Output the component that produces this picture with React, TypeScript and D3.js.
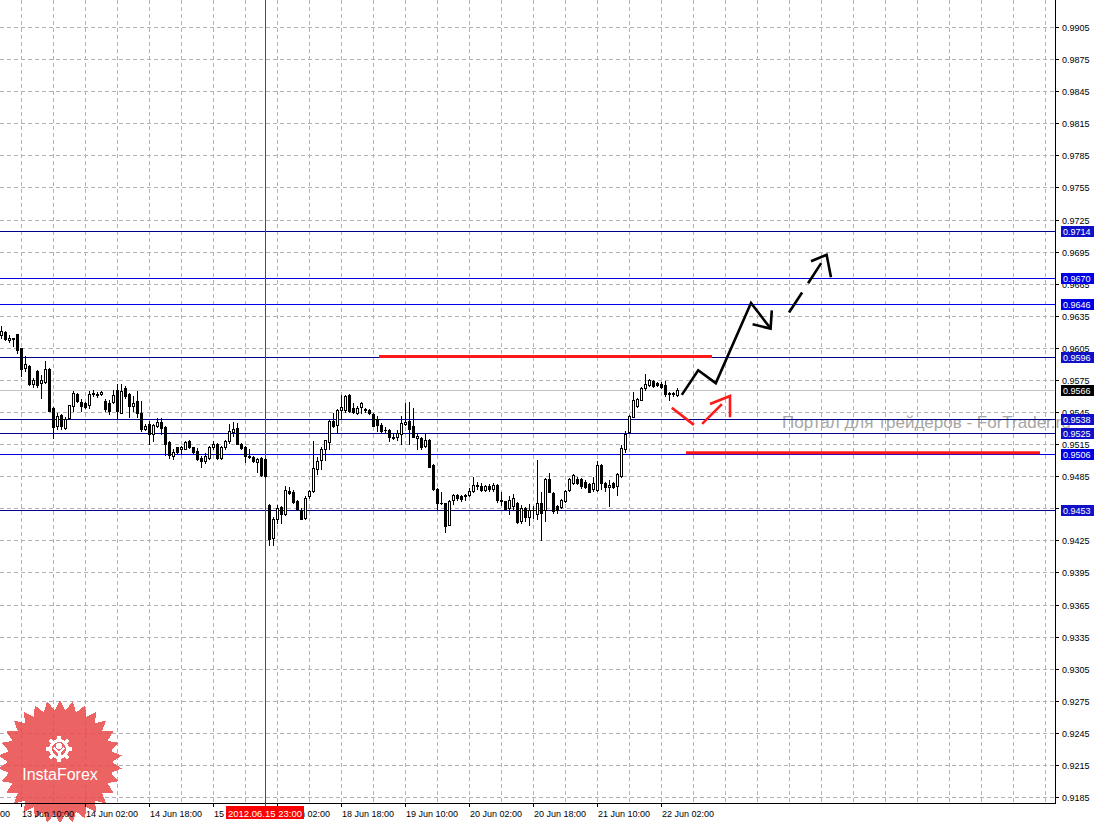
import React from "react";
import * as d3 from "d3";

// ---------- DATA ----------
const firstBar = -5; // bar index of first candle; bar 0 = 13 Jun 10:00 (H1)
const opens = [
  0.9617, 0.9620, 0.9612, 0.9614, 0.9618,
  0.9605, 0.9586, 0.9588, 0.9571, 0.9583, 0.9572, 0.9573, 0.9585, 0.9549, 0.9532,
  0.9542, 0.9530, 0.9539, 0.9551, 0.9562, 0.9554, 0.9553, 0.9552, 0.9562, 0.9562,
  0.9562, 0.9555, 0.9553, 0.9554, 0.9566, 0.9544, 0.9567, 0.9562, 0.9551, 0.9555,
  0.9544, 0.9529, 0.9534, 0.9524, 0.9532, 0.9536, 0.9531, 0.9517, 0.9504, 0.9512,
  0.9510, 0.9510, 0.9518, 0.9512, 0.9509, 0.9502, 0.9499, 0.9502, 0.9512, 0.9515,
  0.9502, 0.9512, 0.9518, 0.9526, 0.9530, 0.9515, 0.9512, 0.9504, 0.9503, 0.9498,
  0.9502, 0.9501, 0.9458, 0.9427, 0.9445, 0.9456, 0.9450, 0.9471, 0.9470, 0.9462,
  0.9453, 0.9446, 0.9466, 0.9471, 0.9492, 0.9500, 0.9510, 0.9517, 0.9537, 0.9533,
  0.9547, 0.9547, 0.9561, 0.9549, 0.9544, 0.9550, 0.9548, 0.9547, 0.9543, 0.9538,
  0.9533, 0.9528, 0.9528, 0.9522, 0.9522, 0.9524, 0.9534, 0.9537, 0.9532, 0.9521,
  0.9521, 0.9513, 0.9519, 0.9495, 0.9473, 0.9460, 0.9460, 0.9439, 0.9463, 0.9467,
  0.9466, 0.9467, 0.9467, 0.9471, 0.9477, 0.9476, 0.9472, 0.9476, 0.9473, 0.9477,
  0.9463, 0.9462, 0.9455, 0.9457, 0.9460, 0.9443, 0.9455, 0.9447, 0.9453, 0.9450,
  0.9460, 0.9453, 0.9482, 0.9469, 0.9457, 0.9456, 0.9462, 0.9472, 0.9479, 0.9482,
  0.9482, 0.9480, 0.9478, 0.9473, 0.9472, 0.9495, 0.9479, 0.9475, 0.9479, 0.9476,
  0.9485, 0.9510, 0.9526, 0.9540, 0.9551, 0.9556, 0.9567, 0.9570, 0.9574, 0.9572,
  0.9571, 0.9570, 0.9563, 0.9562, 0.9561,
];
const highs = [
  0.9625, 0.9621, 0.9617, 0.9614, 0.9618,
  0.9605, 0.9597, 0.9589, 0.9577, 0.9584, 0.9580, 0.9593, 0.9586, 0.9550, 0.9544,
  0.9543, 0.9540, 0.9552, 0.9565, 0.9563, 0.9557, 0.9554, 0.9565, 0.9566, 0.9564,
  0.9565, 0.9557, 0.9556, 0.9566, 0.9571, 0.9571, 0.9569, 0.9563, 0.9560, 0.9565,
  0.9555, 0.9534, 0.9537, 0.9534, 0.9539, 0.9539, 0.9532, 0.9518, 0.9510, 0.9512,
  0.9513, 0.9518, 0.9519, 0.9512, 0.9511, 0.9504, 0.9507, 0.9513, 0.9518, 0.9516,
  0.9513, 0.9519, 0.9534, 0.9536, 0.9535, 0.9516, 0.9513, 0.9510, 0.9504, 0.9502,
  0.9503, 0.9502, 0.9459, 0.9447, 0.9458, 0.9457, 0.9476, 0.9475, 0.9472, 0.9463,
  0.9455, 0.9466, 0.9472, 0.9518, 0.9503, 0.9512, 0.9519, 0.9538, 0.9544, 0.9548,
  0.9561, 0.9561, 0.9562, 0.9553, 0.9551, 0.9554, 0.9549, 0.9548, 0.9544, 0.9541,
  0.9535, 0.9531, 0.9529, 0.9525, 0.9528, 0.9541, 0.9553, 0.9554, 0.9549, 0.9525,
  0.9522, 0.9524, 0.9520, 0.9496, 0.9474, 0.9470, 0.9460, 0.9463, 0.9468, 0.9468,
  0.9467, 0.9468, 0.9474, 0.9484, 0.9480, 0.9479, 0.9477, 0.9478, 0.9479, 0.9478,
  0.9470, 0.9462, 0.9466, 0.9468, 0.9461, 0.9458, 0.9456, 0.9459, 0.9457, 0.9500,
  0.9470, 0.9483, 0.9488, 0.9470, 0.9458, 0.9464, 0.9472, 0.9483, 0.9487, 0.9484,
  0.9483, 0.9481, 0.9479, 0.9484, 0.9499, 0.9496, 0.9480, 0.9481, 0.9480, 0.9488,
  0.9514, 0.9527, 0.9542, 0.9564, 0.9558, 0.9568, 0.9581, 0.9576, 0.9575, 0.9573,
  0.9573, 0.9574, 0.9564, 0.9564, 0.9567,
];
const lows = [
  0.9614, 0.9612, 0.9610, 0.9607, 0.9600,
  0.9579, 0.9583, 0.9570, 0.9568, 0.9568, 0.9558, 0.9572, 0.9546, 0.9521, 0.9529,
  0.9529, 0.9529, 0.9538, 0.9546, 0.9554, 0.9546, 0.9549, 0.9549, 0.9560, 0.9559,
  0.9561, 0.9546, 0.9543, 0.9553, 0.9539, 0.9544, 0.9558, 0.9540, 0.9546, 0.9540,
  0.9527, 0.9528, 0.9515, 0.9518, 0.9531, 0.9524, 0.9505, 0.9502, 0.9501, 0.9507,
  0.9507, 0.9510, 0.9511, 0.9506, 0.9500, 0.9494, 0.9497, 0.9501, 0.9510, 0.9501,
  0.9501, 0.9510, 0.9516, 0.9523, 0.9515, 0.9510, 0.9498, 0.9502, 0.9498, 0.9489,
  0.9485, 0.9484, 0.9421, 0.9421, 0.9441, 0.9441, 0.9449, 0.9468, 0.9460, 0.9453,
  0.9445, 0.9445, 0.9465, 0.9470, 0.9487, 0.9492, 0.9500, 0.9510, 0.9531, 0.9525,
  0.9538, 0.9545, 0.9545, 0.9544, 0.9543, 0.9544, 0.9545, 0.9543, 0.9532, 0.9527,
  0.9526, 0.9526, 0.9518, 0.9520, 0.9519, 0.9515, 0.9533, 0.9515, 0.9522, 0.9510,
  0.9510, 0.9512, 0.9494, 0.9472, 0.9453, 0.9459, 0.9433, 0.9439, 0.9459, 0.9463,
  0.9462, 0.9463, 0.9466, 0.9470, 0.9473, 0.9471, 0.9471, 0.9471, 0.9471, 0.9461,
  0.9458, 0.9453, 0.9450, 0.9454, 0.9441, 0.9441, 0.9443, 0.9439, 0.9446, 0.9445,
  0.9425, 0.9443, 0.9470, 0.9451, 0.9451, 0.9455, 0.9461, 0.9471, 0.9478, 0.9478,
  0.9474, 0.9474, 0.9470, 0.9471, 0.9471, 0.9473, 0.9471, 0.9457, 0.9474, 0.9467,
  0.9484, 0.9508, 0.9525, 0.9540, 0.9550, 0.9556, 0.9566, 0.9569, 0.9568, 0.9569,
  0.9567, 0.9560, 0.9556, 0.9560, 0.9560,
];
const closes = [
  0.9621, 0.9613, 0.9614, 0.9613, 0.9603,
  0.9585, 0.9590, 0.9571, 0.9575, 0.9570, 0.9575, 0.9585, 0.9546, 0.9531, 0.9541,
  0.9532, 0.9538, 0.9552, 0.9563, 0.9555, 0.9551, 0.9550, 0.9562, 0.9563, 0.9561,
  0.9564, 0.9548, 0.9546, 0.9561, 0.9546, 0.9565, 0.9560, 0.9551, 0.9553, 0.9544,
  0.9529, 0.9532, 0.9524, 0.9533, 0.9536, 0.9530, 0.9515, 0.9505, 0.9508, 0.9508,
  0.9512, 0.9517, 0.9512, 0.9508, 0.9501, 0.9499, 0.9504, 0.9512, 0.9515, 0.9502,
  0.9512, 0.9518, 0.9527, 0.9529, 0.9515, 0.9511, 0.9504, 0.9503, 0.9499, 0.9501,
  0.9486, 0.9485, 0.9426, 0.9445, 0.9455, 0.9450, 0.9472, 0.9469, 0.9461, 0.9454,
  0.9445, 0.9465, 0.9471, 0.9493, 0.9499, 0.9510, 0.9519, 0.9537, 0.9532, 0.9547,
  0.9550, 0.9560, 0.9546, 0.9545, 0.9549, 0.9553, 0.9547, 0.9544, 0.9532, 0.9533,
  0.9527, 0.9528, 0.9522, 0.9521, 0.9525, 0.9535, 0.9536, 0.9529, 0.9522, 0.9523,
  0.9512, 0.9519, 0.9494, 0.9473, 0.9460, 0.9460, 0.9438, 0.9462, 0.9467, 0.9465,
  0.9464, 0.9466, 0.9471, 0.9477, 0.9476, 0.9472, 0.9476, 0.9473, 0.9477, 0.9463,
  0.9462, 0.9454, 0.9463, 0.9465, 0.9442, 0.9455, 0.9447, 0.9453, 0.9453, 0.9460,
  0.9451, 0.9482, 0.9470, 0.9452, 0.9453, 0.9463, 0.9471, 0.9482, 0.9486, 0.9479,
  0.9476, 0.9475, 0.9470, 0.9479, 0.9495, 0.9479, 0.9475, 0.9477, 0.9475, 0.9487,
  0.9511, 0.9524, 0.9541, 0.9556, 0.9557, 0.9567, 0.9571, 0.9575, 0.9569, 0.9570,
  0.9568, 0.9562, 0.9562, 0.9563, 0.9566,
];

const priceTicks = [
  0.9185, 0.9215, 0.9245, 0.9275, 0.9305, 0.9335, 0.9365, 0.9395, 0.9425,
  0.9455, 0.9485, 0.9515, 0.9545, 0.9575, 0.9605, 0.9635, 0.9665, 0.9695,
  0.9725, 0.9755, 0.9785, 0.9815, 0.9845, 0.9875, 0.9905,
];
const timeTickBars = [-16, 0, 16, 32, 48, 64, 80, 96, 112, 128, 144, 160];
const timeTickLabels = [
  "12 Jun 18:00", "13 Jun 10:00", "14 Jun 02:00", "14 Jun 18:00", "15 Jun 10:00",
  "18 Jun 02:00", "18 Jun 18:00", "19 Jun 10:00", "20 Jun 02:00", "20 Jun 18:00",
  "21 Jun 10:00", "22 Jun 02:00",
];

const levelPrices = [0.9714, 0.9670, 0.9646, 0.9596, 0.9538, 0.9525, 0.9506, 0.9453];
const bidPrice = 0.9566;
const separatorBar = 61;
const separatorLabel = "2012.06.15 23:00";

// drawn annotations (bar index, price)
const redLevelA = [[89.5, 0.9597], [172.75, 0.9597]];
const redLevelB = [[166.25, 0.9507], [254.75, 0.9507]];
const blackSolidPath = [[165.2, 0.9561], [169.3, 0.9584], [173.7, 0.9572], [182.5, 0.9647], [187.4, 0.9623]];
const blackSolidHead = [[182.9, 0.9627], [187.4, 0.9623], [187.7, 0.9640]];
const blackDashPath = [[192, 0.9638], [201.4, 0.9692]];
const blackDashHead = [[197.5, 0.9686], [201.4, 0.9692], [202.5, 0.9671]];
const redDashPath = [[162.7, 0.9549], [169.25, 0.9530], [177.25, 0.9560]];
const redDashHead = [[172.25, 0.95525], [177.25, 0.9560], [177.25, 0.9540]];

const watermark = "Портал для трейдеров - ForTrader.ru";
const logoText = "InstaForex";

// ---------- LAYOUT ----------
const W = 1098;
const H = 822;
const plotRight = 1056;
const plotBottom = 803;
const FONT = "'Liberation Sans', Arial, sans-serif";
const darkBlue = "#00008c";
const brightBlue = "#0000e6";
const brightSet = new Set([0.9670, 0.9646, 0.9506]);

const ys = d3.scaleLinear().domain([0.9185, 0.9905]).range([797, 27]);
const xs = d3.scaleLinear().domain([0, 160]).range([21, 661]);

const line = d3
  .line<number[]>()
  .x((d) => xs(d[0]))
  .y((d) => ys(d[1]));

function fmt(v: number) {
  return v.toFixed(4);
}

function Star() {
  const cx = 60, cy = 762, N = 30, R = 62, r = 52;
  const pts = d3.range(2 * N).map((k) => {
    const a = (k * Math.PI) / N - Math.PI / 2;
    const rr = k % 2 === 0 ? R : r;
    return [cx + rr * Math.cos(a), cy + rr * Math.sin(a)] as [number, number];
  });
  const gx = 59, gy = 749;
  const teeth = d3.range(8).map((k) => {
    const a = (k * Math.PI) / 4;
    return (
      <rect
        key={k}
        x={gx - 2}
        y={gy - 13}
        width={4}
        height={5}
        fill="#fff"
        transform={`rotate(${(a * 180) / Math.PI} ${gx} ${gy})`}
      />
    );
  });
  return (
    <g>
      <polygon points={pts.map((p) => p.join(",")).join(" ")} fill="#e84848" opacity={0.85} />
      {teeth}
      <path
        d={d3.arc()({ innerRadius: 7, outerRadius: 10, startAngle: Math.PI * 0.8, endAngle: Math.PI * 3.2 }) || ""}
        transform={`translate(${gx},${gy})`}
        fill="#fff"
      />
      <circle cx={gx} cy={gy - 3} r={3} fill="#fff" />
      <path d={`M${gx - 5},${gy - 1} L${gx},${gy + 4} L${gx + 5},${gy - 1}`} stroke="#fff" strokeWidth={2.2} fill="none" />
      <rect x={gx - 1.5} y={gy + 2} width={3} height={11} fill="#fff" />
      <text x={cx} y={780} textAnchor="middle" fontFamily={FONT} fontSize={16} fill="#fff">
        {logoText}
      </text>
    </g>
  );
}

export default function App() {
  const gridBars = d3.range(0, 260, 8);
  const candles = opens.map((o, k) => {
    const i = firstBar + k;
    const c = closes[k];
    const h = highs[k];
    const l = lows[k];
    const cx = Math.round(xs(i));
    const top = Math.round(ys(Math.max(o, c)));
    const bot = Math.round(ys(Math.min(o, c)));
    const wick = (
      <line key={"w" + k} x1={cx + 0.5} x2={cx + 0.5} y1={Math.round(ys(h))} y2={Math.round(ys(l)) + 1} stroke="#000" />
    );
    let body;
    if (bot - top <= 0) {
      body = <line key={"b" + k} x1={cx - 1} x2={cx + 2} y1={top + 0.5} y2={top + 0.5} stroke="#000" />;
    } else if (c > o) {
      body = (
        <rect key={"b" + k} x={cx - 0.5} y={top + 0.5} width={2} height={bot - top} fill="#fff" stroke="#000" />
      );
    } else {
      body = <rect key={"b" + k} x={cx - 1} y={top} width={3} height={bot - top + 1} fill="#000" />;
    }
    return (
      <g key={k}>
        {wick}
        {body}
      </g>
    );
  });

  const sepX = Math.round(xs(separatorBar)) + 0.5;

  return (
    <svg
      width={W}
      height={H}
      style={{ position: "absolute", left: 0, top: 0, display: "block", background: "#fff" }}
      shapeRendering="crispEdges"
    >
      <rect x={0} y={0} width={W} height={H} fill="#fff" />
      <defs>
        <clipPath id="plot">
          <rect x={0} y={0} width={plotRight} height={plotBottom} />
        </clipPath>
      </defs>

      {/* grid */}
      <g stroke="#b8aeb8" strokeDasharray="4,3">
        {priceTicks.map((v) => (
          <line key={v} x1={0} x2={plotRight} y1={Math.round(ys(v)) + 0.5} y2={Math.round(ys(v)) + 0.5} />
        ))}
        {gridBars.map((b) => (
          <line key={b} x1={Math.round(xs(b)) + 0.5} x2={Math.round(xs(b)) + 0.5} y1={0} y2={plotBottom} />
        ))}
      </g>

      {/* watermark */}
      <text x={782} y={428} fontFamily={FONT} fontSize={17} fill="#a6a6a6">
        {watermark}
      </text>

      {/* bid line */}
      <line x1={0} x2={plotRight} y1={Math.round(ys(bidPrice)) + 0.5} y2={Math.round(ys(bidPrice)) + 0.5} stroke="#c4c4c4" />

      {/* level lines */}
      {levelPrices.map((v) => (
        <line
          key={v}
          x1={0}
          x2={plotRight}
          y1={Math.round(ys(v)) + 0.5}
          y2={Math.round(ys(v)) + 0.5}
          stroke={brightSet.has(v) ? brightBlue : darkBlue}
        />
      ))}

      {/* separator */}
      <line x1={sepX} x2={sepX} y1={0} y2={plotBottom} stroke="#ff0000" />

      <g clipPath="url(#plot)">{candles}</g>

      {/* annotations */}
      <g fill="none" shapeRendering="auto" strokeLinecap="butt" strokeLinejoin="miter">
        <path d={line(redLevelA as any) || ""} stroke="#ff1a1a" strokeWidth={3} />
        <path d={line(redLevelB as any) || ""} stroke="#ff1a1a" strokeWidth={3} />
        <path d={line(blackSolidPath as any) || ""} stroke="#000" strokeWidth={2.6} />
        <path d={line(blackSolidHead as any) || ""} stroke="#000" strokeWidth={2.6} />
        <path d={line(blackDashPath as any) || ""} stroke="#000" strokeWidth={2.6} strokeDasharray="24,11" />
        <path d={line(blackDashHead as any) || ""} stroke="#000" strokeWidth={2.6} />
        <path d={line(redDashPath as any) || ""} stroke="#ff1a1a" strokeWidth={2.6} strokeDasharray="28,11" />
        <path d={line(redDashHead as any) || ""} stroke="#ff1a1a" strokeWidth={2.6} />
      </g>

      <Star />

      {/* axes */}
      <line x1={plotRight - 0.5} x2={plotRight - 0.5} y1={0} y2={plotBottom + 1} stroke="#000" />
      <line x1={0} x2={plotRight} y1={plotBottom + 0.5} y2={plotBottom + 0.5} stroke="#000" />

      {priceTicks.map((v) => {
        const y = Math.round(ys(v));
        return (
          <g key={v}>
            <line x1={plotRight} x2={plotRight + 3} y1={y + 0.5} y2={y + 0.5} stroke="#000" />
            <text x={1062} y={y + 3.5} fontFamily={FONT} fontSize={9} fill="#000">
              {fmt(v)}
            </text>
          </g>
        );
      })}

      {levelPrices.map((v) => {
        const y = Math.round(ys(v));
        return (
          <g key={"lb" + v}>
            <rect x={1061} y={y - 5} width={33} height={11} fill={brightSet.has(v) ? brightBlue : "#1010c8"} />
            <text x={1063} y={y + 3.5} fontFamily={FONT} fontSize={9} fill="#fff">
              {fmt(v)}
            </text>
          </g>
        );
      })}
      <g>
        <rect x={1061} y={Math.round(ys(bidPrice)) - 5} width={33} height={11} fill="#000" />
        <text x={1063} y={Math.round(ys(bidPrice)) + 3.5} fontFamily={FONT} fontSize={9} fill="#fff">
          {fmt(bidPrice)}
        </text>
      </g>

      {timeTickBars.map((b, k) => {
        const x = Math.round(xs(b));
        return (
          <g key={b}>
            <line x1={x + 0.5} x2={x + 0.5} y1={plotBottom} y2={plotBottom + 4} stroke="#000" />
            <text x={x + 1} y={817} fontFamily={FONT} fontSize={9} fill="#000">
              {timeTickLabels[k]}
            </text>
          </g>
        );
      })}
      <line x1={sepX} x2={sepX} y1={plotBottom} y2={plotBottom + 4} stroke="#ff0000" />
      <rect x={226} y={806} width={78} height={13} fill="#ff0000" />
      <text x={228} y={816.5} fontFamily={FONT} fontSize={9.5} fill="#fff">
        {separatorLabel}
      </text>
    </svg>
  );
}
